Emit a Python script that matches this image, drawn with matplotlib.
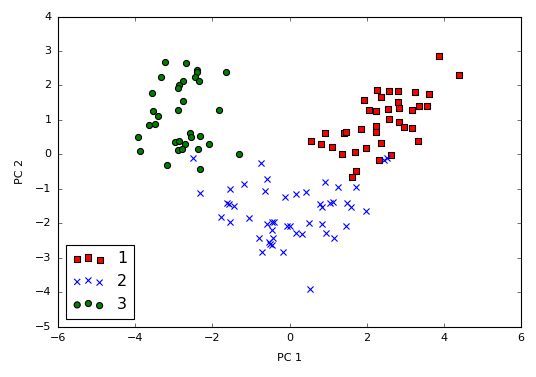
import matplotlib
matplotlib.use("Agg")
import matplotlib.pyplot as plt
import numpy as np

plt.style.use('classic')

labels = [1, 2, 3]
colors = ['red', 'blue', 'green']
markers = ['s', 'x', 'o']

pc1_class1 = [3.87, 4.39, 2.28, 2.57, 2.80, 3.25, 3.61, 1.94, 2.36, 2.80, 2.07, 2.25, 2.54,
              2.85, 3.17, 3.35, 3.56, 2.57, 2.85, 2.96, 3.17, 3.32, 2.23, 2.23, 1.86, 1.42,
              1.47, 0.92, 0.56, 0.82, 1.10, 1.37, 1.70, 1.99, 2.36, 2.62, 2.33, 1.73, 1.63]
pc2_class1 = [2.86, 2.31, 1.87, 1.84, 1.84, 1.81, 1.76, 1.58, 1.67, 1.52, 1.29, 1.26, 1.32,
              1.35, 1.29, 1.41, 1.41, 1.03, 0.94, 0.80, 0.77, 0.39, 0.83, 0.65, 0.74, 0.62,
              0.65, 0.62, 0.39, 0.30, 0.22, 0.01, 0.07, 0.19, 0.33, -0.01, -0.16, -0.48, -0.65]

pc1_class2 = [-2.50, -0.75, -0.59, -1.19, -1.53, -0.64, -2.32, -0.12, 0.16, 0.43, 0.92, 1.26,
              1.73, -1.61, -1.58, -1.43, -1.77, -1.55, -1.06, 0.79, 0.84, 1.05, 1.13, 1.50,
              1.60, 1.97, -0.59, -0.46, -0.41, -0.46, -0.07, 0.01, 0.50, 0.84, 1.47, 0.16,
              0.32, 0.95, 1.16, -0.78, -0.44, -0.54, -0.51, -0.46, -0.72, -0.17, 0.53, 2.52, 2.45]
pc2_class2 = [-0.10, -0.25, -0.71, -0.86, -1.00, -1.06, -1.12, -1.23, -1.15, -1.09, -0.80, -0.94,
              -0.94, -1.41, -1.44, -1.50, -1.81, -1.96, -1.84, -1.44, -1.52, -1.41, -1.38, -1.41,
              -1.52, -1.64, -2.02, -1.96, -1.96, -2.19, -2.08, -2.08, -1.99, -2.02, -2.08, -2.28,
              -2.31, -2.28, -2.42, -2.42, -2.42, -2.54, -2.60, -2.63, -2.83, -2.83, -3.90, -0.10, -0.18]

pc1_class3 = [-3.23, -2.68, -2.41, -2.39, -1.64, -3.33, -2.76, -2.45, -2.34, -2.86, -2.89, -3.57,
              -2.76, -3.54, -3.40, -2.89, -1.82, -3.65, -3.49, -3.93, -2.58, -2.55, -2.32, -2.97,
              -2.86, -2.71, -2.08, -3.88, -2.89, -2.79, -2.37, -1.30, -3.18, -2.32]
pc2_class3 = [2.69, 2.66, 2.46, 2.40, 2.40, 2.23, 2.13, 2.23, 2.13, 2.00, 1.93, 1.79,
              1.55, 1.26, 1.12, 1.29, 1.29, 0.86, 0.89, 0.51, 0.62, 0.50, 0.54, 0.36,
              0.39, 0.30, 0.30, 0.10, 0.13, 0.16, 0.16, 0.01, -0.30, -0.42]

xs = [pc1_class1, pc1_class2, pc1_class3]
ys = [pc2_class1, pc2_class2, pc2_class3]

fig = plt.figure(figsize=(536/80, 377/80), dpi=80)
fig.patch.set_facecolor('white')
ax = fig.add_axes([58/536, 1-326.5/377, (521-58)/536, (326.5-16.5)/377])

for l, c, m, x, y in zip(labels, colors, markers, xs, ys):
    if m == 'x':
        ax.scatter(x, y, c=c, marker=m, label=l, s=30, linewidths=1)
    else:
        ax.scatter(x, y, c=c, marker=m, label=l, s=30, edgecolors='black', linewidths=1)

ax.set_xlim(-6, 6)
ax.set_ylim(-5, 4)
ax.set_xlabel('PC 1', fontsize=10, labelpad=9)
ax.set_ylabel('PC 2', fontsize=10, labelpad=9)
ax.tick_params(labelsize=10, pad=6)
ax.legend(loc='lower left', scatterpoints=3, fontsize=14.4)

fig.savefig('out.png', dpi=80, facecolor='white')
